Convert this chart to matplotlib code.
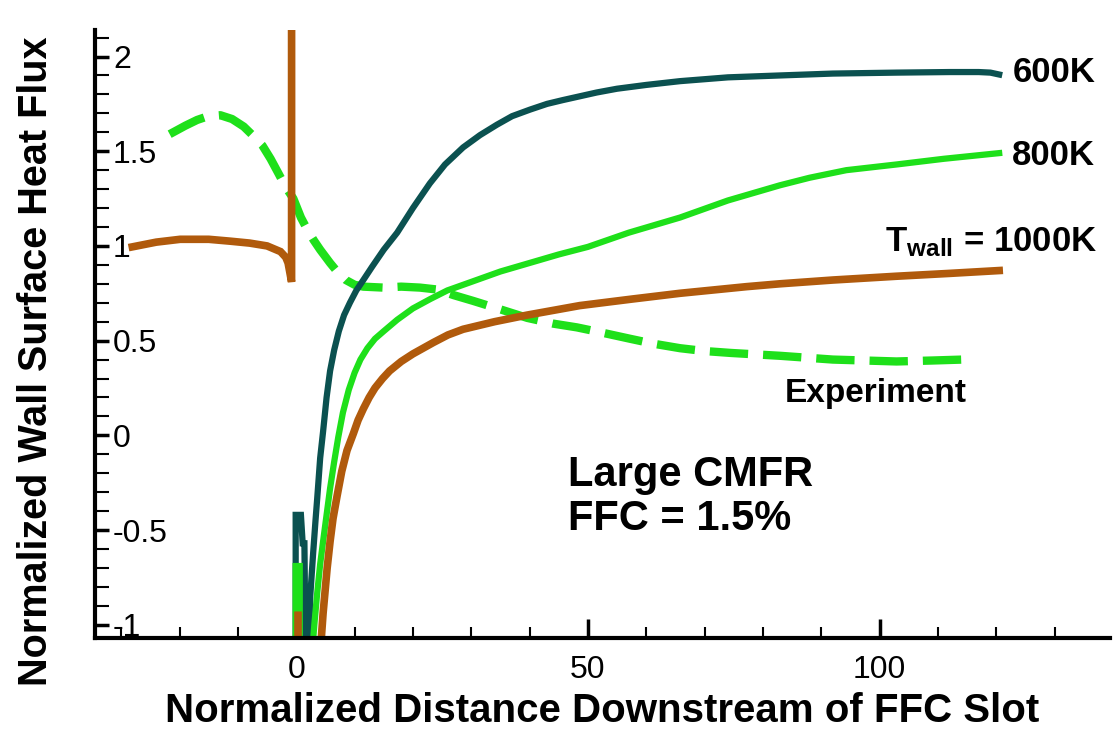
import numpy as np
import matplotlib
matplotlib.use("Agg")
from matplotlib import pyplot as plt
from matplotlib.ticker import MultipleLocator

plt.rcParams["font.family"] = ["Liberation Sans", "DejaVu Sans"]
plt.rcParams["mathtext.fontset"] = "custom"
plt.rcParams["mathtext.rm"] = "Liberation Sans:bold"
plt.rcParams["mathtext.bf"] = "Liberation Sans:bold"
plt.rcParams["mathtext.it"] = "Liberation Sans:bold"

nan = np.nan

# 600K wall: spike at the slot, then the main recovery curve
x_600 = [-0.1, -0.1, 0.8, 1.1, 1.4, 1.7, nan,
         2.1, 2.4, 2.9, 3.3, 3.6, 4.1, 4.6, 5.2, 5.8, 6.5, 7.3, 8.2, 9.2,
         10.3, 11.5, 13.0, 15.0, 17.3, 20.0, 22.9, 25.5, 28.6, 31.5, 34.4,
         37.0, 40.1, 43.0, 45.7, 48.6, 51.5, 55.0, 60.0, 65.8, 74.0, 82.9,
         92.0, 102.9, 112.0, 117.0, 119.0, 120.5]
y_600 = [-1.5, -0.42, -0.42, -0.57, -0.57, -1.5, nan,
         -1.2, -0.85, -0.62, -0.45, -0.33, -0.12, 0.02, 0.20, 0.34, 0.45,
         0.55, 0.635, 0.70, 0.765, 0.82, 0.89, 0.98, 1.07, 1.20, 1.33, 1.43,
         1.52, 1.585, 1.64, 1.685, 1.72, 1.75, 1.77, 1.79, 1.81, 1.83, 1.85,
         1.87, 1.89, 1.90, 1.91, 1.915, 1.918, 1.918, 1.915, 1.905]

# 800K wall
x_800 = [-0.1, -0.1, 0.6, 0.6, nan,
         2.6, 3.1, 3.6, 4.1, 4.6, 5.2, 5.8, 6.5, 7.2, 8.0, 9.0, 10.0, 11.0,
         12.2, 13.5, 15.0, 17.3, 20.0, 23.0, 25.9, 30.0, 35.0, 40.0, 45.0,
         50.0, 57.0, 65.8, 74.0, 82.9, 88.0, 94.3, 102.9, 111.0, 120.5]
y_800 = [-1.5, -0.69, -0.69, -1.5, nan,
         -1.2, -1.0, -0.83, -0.68, -0.56, -0.42, -0.28, -0.14, -0.01, 0.12,
         0.24, 0.33, 0.40, 0.46, 0.51, 0.55, 0.61, 0.67, 0.72, 0.765, 0.81,
         0.865, 0.91, 0.955, 0.995, 1.07, 1.15, 1.24, 1.32, 1.36, 1.40, 1.43,
         1.46, 1.49]

# 1000K wall: upstream part with spike, stub at the slot, downstream branch
x_1000 = [-28.1, -24.0, -19.9, -15.0, -11.3, -8.0, -5.0, -2.7, -1.8, -1.4,
          -1.1, -0.8, -0.8, nan,
          0.3, 0.3, nan,
          4.0, 4.6, 5.3, 5.8, 6.3, 7.0, 7.8, 8.7, 9.8, 10.6, 11.5, 12.5, 13.5,
          14.8, 16.0, 18.0, 20.0, 23.5, 26.0, 28.6, 34.0, 39.6, 48.6, 57.7,
          65.8, 77.2, 82.9, 92.0, 102.9, 112.0, 120.5]
y_1000 = [0.995, 1.02, 1.035, 1.035, 1.025, 1.015, 1.0, 0.97, 0.94, 0.91,
          0.86, 0.81, 3.0, nan,
          -0.95, -1.5, nan,
          -1.2, -0.94, -0.70, -0.56, -0.44, -0.32, -0.19, -0.08, 0.01, 0.08,
          0.14, 0.20, 0.25, 0.30, 0.34, 0.39, 0.43, 0.49, 0.53, 0.56, 0.60,
          0.635, 0.685, 0.72, 0.75, 0.785, 0.80, 0.82, 0.84, 0.855, 0.87]

# experiment (dashed)
x_exp = [-21.7, -19.0, -17.0, -15.1, -13.0, -11.0, -9.0, -7.5, -5.8, -4.4,
         -3.0, -1.8, -0.5, 0.8, 2.0, 3.0, 4.1, 5.8, 7.0, 8.5, 10.0, 11.5,
         14.9, 18.0, 21.2, 24.1, 27.0, 30.3, 35.0, 39.6, 44.0, 48.1, 52.0,
         57.2, 61.0, 65.8, 70.0, 74.5, 82.9, 92.0, 102.9, 109.0, 114.2]
y_exp = [1.59, 1.635, 1.665, 1.685, 1.69, 1.67, 1.63, 1.585, 1.53, 1.46,
         1.38, 1.31, 1.25, 1.15, 1.08, 1.03, 0.98, 0.91, 0.865, 0.82, 0.795,
         0.785, 0.78, 0.785, 0.78, 0.77, 0.74, 0.71, 0.665, 0.62, 0.59, 0.57,
         0.545, 0.51, 0.485, 0.46, 0.445, 0.435, 0.42, 0.40, 0.39, 0.395,
         0.40]

teal = "#0b5150"
green = "#1ee01a"
brown = "#b05a0c"

fig = plt.figure(figsize=(11.14, 7.34), dpi=100)
ax = fig.add_axes([95 / 1114, 1 - 638 / 734, 1015 / 1114, 608 / 734])

ax.plot(x_exp, y_exp, color=green, lw=6, dashes=(4.6, 1.8),
        dash_capstyle="butt")
ax.plot(x_600, y_600, color=teal, lw=4.5, solid_joinstyle="miter")
ax.plot(x_800, y_800, color=green, lw=4.5, solid_joinstyle="miter")
ax.plot(x_1000, y_1000, color=brown, lw=5.5, solid_joinstyle="miter")

ax.set_xlim(-34.5, 139.5)
ax.set_ylim(-1.07, 2.14)

for side in ["top", "right"]:
    ax.spines[side].set_visible(False)
for side in ["left", "bottom"]:
    ax.spines[side].set_linewidth(3)

ax.xaxis.set_major_locator(MultipleLocator(50))
ax.xaxis.set_minor_locator(MultipleLocator(10))
ax.yaxis.set_major_locator(MultipleLocator(0.5))
ax.yaxis.set_minor_locator(MultipleLocator(0.1))
ax.set_yticks([-1, -0.5, 0, 0.5, 1, 1.5, 2])
ax.set_yticklabels(["-1", "-0.5", "0", "0.5", "1", "1.5", "2"])

ax.tick_params(axis="x", which="major", direction="in", length=14, width=2.5,
               labelsize=23, pad=12)
ax.tick_params(axis="x", which="minor", direction="in", length=8, width=1.5)
ax.tick_params(axis="y", which="major", direction="in", length=10, width=2.5,
               labelsize=23, pad=-13)
ax.tick_params(axis="y", which="minor", direction="in", length=10, width=1.5)
for lab in ax.get_yticklabels():
    lab.set_horizontalalignment("left")

ax.set_xlabel("Normalized Distance Downstream of FFC Slot", fontsize=29,
              fontweight="bold", labelpad=5)
ax.set_ylabel("Normalized Wall Surface Heat Flux", fontsize=28.5,
              fontweight="bold")
ax.yaxis.set_label_coords(-0.039, 0.455)

ax.text(122.8, 1.915, "600K", fontsize=25, fontweight="bold", va="center")
ax.text(122.6, 1.48, "800K", fontsize=25, fontweight="bold", va="center")
ax.text(100.9, 0.97, r"T$_{\mathbf{wall}}$ = 1000K", fontsize=25,
        fontweight="bold", va="baseline")
ax.text(83.7, 0.175, "Experiment", fontsize=24, fontweight="bold",
        va="baseline")
ax.text(46.6, -0.265, "Large CMFR", fontsize=30, fontweight="bold",
        va="baseline")
ax.text(46.6, -0.50, "FFC = 1.5%", fontsize=30, fontweight="bold",
        va="baseline")

fig.savefig("out.png", dpi=100)
